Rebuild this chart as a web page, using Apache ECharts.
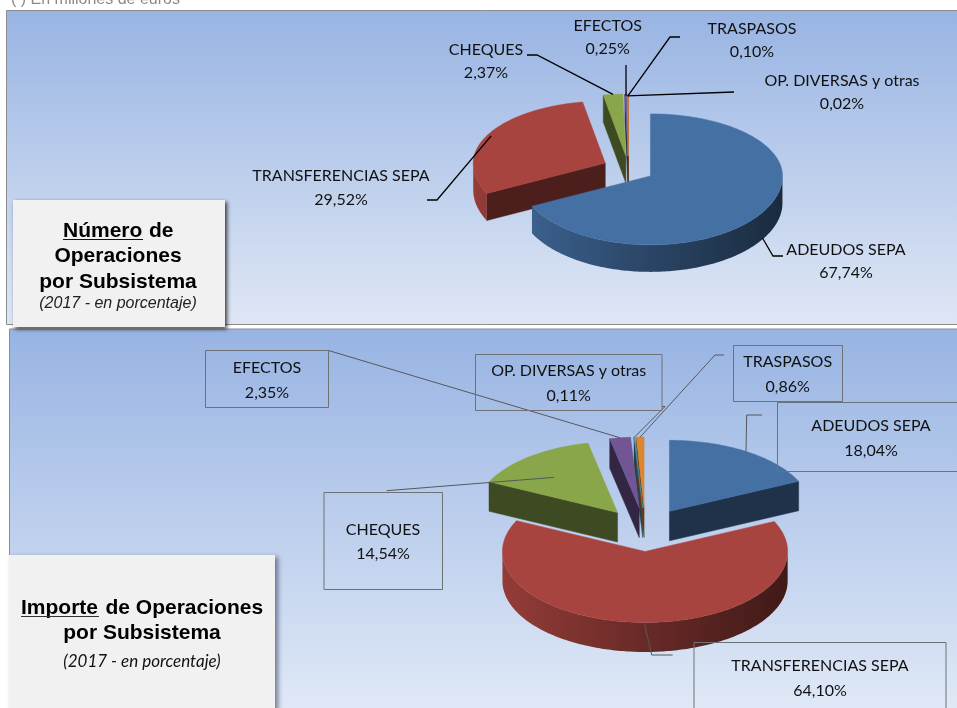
<!DOCTYPE html>
<html><head><meta charset="utf-8">
<style>html,body{margin:0;padding:0;background:#fff}#c{width:957px;height:708px}</style>
<script src="https://cdn.jsdelivr.net/npm/echarts@6/dist/echarts.min.js"></script>
</head><body><div id="c"></div>
<script>
const categories = ['ADEUDOS SEPA','TRANSFERENCIAS SEPA','CHEQUES','EFECTOS','OP. DIVERSAS y otras','TRASPASOS'];
const numeroValues = [67.74,29.52,2.37,0.25,0.02,0.10];
const importeValues = [18.04,64.10,14.54,2.35,0.11,0.86];
const baseColors = ['#4470A4','#A8443F','#8AA64B','#715594','#3F98AF','#DF8430'];

const FONT = 'Lato, sans-serif';
const geomNumero = {cx:628.4, cy:169, rx:132, ryBack:62, ryFront:69, k:0.5, depth:27, explode:26};
const geomImporte = {cx:645.3, cy:529.7, rx:142.6, ryBack:71, ryFront:71, k:0.484, depth:29.5, explode:45};

// label layout per category: text centre, line ys, leader tail, anchor fraction, depth fraction
const layoutNumero = [
 {x:846,y:[250,273],tail:[[783,256],[773,256]],f:1,d:0.95},
 {x:341,y:[176,200],tail:[[427,200],[437,200]],f:0.97,d:0},
 {x:486,y:[50,73],tail:[[527,55],[537,55]],f:1,d:0},
 {x:607.7,y:[26,49],tail:[[626,65]],f:0.97,d:0},
 {x:842,y:[81,104],tail:[[734,92]],f:0.97,d:0},
 {x:752,y:[29,52],tail:[[680,37],[670,37]],f:0.97,d:0}
];
const layoutImporte = [
 {x:871,y:[426,451],tail:[[762,415],[746.7,415]],f:1,d:0,box:[777.5,402.5,190,69]},
 {x:820,y:[666,691],tail:[[672.7,655],[651.7,655]],f:1,d:0,box:[694,642.5,252,80]},
 {x:383,y:[530,554],tail:[[386.7,490.7]],f:0.72,d:0,box:[324,492.5,118.5,97]},
 {x:267,y:[368,393],tail:[[328.5,350.5]],f:1,d:0,box:[205.5,350.5,123,57]},
 {x:568.7,y:[371,396],tail:[[662,406.5],[665,406.5]],f:1,d:0,box:[475.5,354.5,186.5,56]},
 {x:787.7,y:[362,387],tail:[[724,355],[715,355]],f:1,d:0,box:[733.5,345.5,109,56]}
];

function shade(hex,k){
  const n=parseInt(hex.slice(1),16);
  const c=[n>>16&255,n>>8&255,n&255].map(v=>Math.round(v*k));
  return 'rgb('+c.join(',')+')';
}
const fmt = v => v.toFixed(2).replace('.',',')+'%';
const rad = d => d*Math.PI/180;

function makeSeries(values,g,layout,lineColor,lineWidth){
  const total = values.reduce((a,b)=>a+b,0);
  const starts=[]; let acc=0;
  values.forEach(v=>{starts.push(acc/total*360);acc+=v;});
  return {
    type:'custom', coordinateSystem:'none', silent:true, animation:false,
    data: categories.map((name,i)=>({name,value:values[i]})),
    renderItem(params,api){
      const i=params.dataIndex, v=api.value(0);
      const a0=starts[i], a1=a0+v/total*360, mid=(a0+a1)/2;
      const sx=g.cx+g.explode*Math.sin(rad(mid));
      const sy=g.cy-g.explode*g.k*Math.cos(rad(mid));
      const P=(a,d,f)=>{
        f=f==null?1:f;
        const c=Math.cos(rad(a));
        const ry=c>0?g.ryBack:g.ryFront;
        return [sx+f*g.rx*Math.sin(rad(a)), sy-f*ry*c+d];
      };
      const apex=[sx,sy];
      const col=baseColors[i], dark=shade(col,0.45);
      const z=Math.round(-Math.cos(rad(mid))*100)+200;
      const kids=[];
      const face=(a)=>{
        const p=P(a,0), q=P(a,g.depth);
        kids.push({type:'polygon',z2:z,shape:{points:[apex,p,q,[apex[0],apex[1]+g.depth]]},
          style:{fill:dark,stroke:dark,lineWidth:0.5}});
      };
      if(Math.sin(rad(a0))<0) face(a0);
      if(Math.sin(rad(a1))>0) face(a1);
      const w0=Math.max(a0,90), w1=Math.min(a1,270);
      if(w1>w0){
        const pts=[];
        for(let a=w0;a<w1;a+=1) pts.push(P(a,0));
        pts.push(P(w1,0));
        for(let a=w1;a>w0;a-=1) pts.push(P(a,g.depth));
        pts.push(P(w0,g.depth));
        const grad=new echarts.graphic.LinearGradient(sx-g.rx,0,sx+g.rx,0,[
          {offset:0,color:shade(col,0.88)},{offset:0.5,color:shade(col,0.62)},{offset:1,color:shade(col,0.38)}],true);
        kids.push({type:'polygon',z2:z,shape:{points:pts},style:{fill:grad}});
      }
      const top=[apex];
      for(let a=a0;a<a1;a+=1) top.push(P(a,0));
      top.push(P(a1,0));
      kids.push({type:'polygon',z2:z+1,shape:{points:top},style:{fill:col,stroke:col,lineWidth:0.5}});

      const L=layout[i];
      const end=P(mid,L.d*g.depth,L.f);
      if(i===2&&L.box) end[1]+=5;
      kids.push({type:'polyline',z2:900,shape:{points:L.tail.concat([end])},
        style:{fill:null,stroke:lineColor,lineWidth}});
      if(L.box){
        kids.push({type:'rect',z2:901,shape:{x:L.box[0],y:L.box[1],width:L.box[2],height:L.box[3]},
          style:{fill:null,stroke:'#6f7274',lineWidth:1}});
      }
      [categories[i],fmt(v)].forEach((t,n)=>{
        kids.push({type:'text',z2:950,style:{text:t,x:L.x,y:L.y[n],align:'center',verticalAlign:'middle',
          font:'16px '+FONT,fill:'#111'}});
      });
      return {type:'group',children:kids};
    }
  };
}

const bgGrad=(y0,y1,c1,c2)=>new echarts.graphic.LinearGradient(0,y0,0,y1,[{offset:0,color:c1},{offset:1,color:c2}],true);
const txt=(t,x,y,font,fill,align)=>({type:'text',z:20,silent:true,style:{text:t,x,y,font,fill:fill||'#000',align:align||'center',verticalAlign:'middle'}});
const HB='bold 21px "Liberation Sans", Arial, sans-serif';

const graphicEls=[
 txt('( ) En millones de euros',11,0,'16px "Liberation Sans", Arial, sans-serif','#8a8a8a','left'),
 {type:'rect',z:-5,silent:true,shape:{x:6.5,y:10.5,width:960,height:314},
  style:{fill:bgGrad(10,325,'#98b4e3','#dfe7f5'),stroke:'#8c8c8c',lineWidth:1}},
 {type:'rect',z:-5,silent:true,shape:{x:9.5,y:329,width:960,height:390},
  style:{fill:bgGrad(329,708,'#98b4e3','#dfe8f6'),stroke:'#8c8c8c',lineWidth:1}},
 {type:'rect',z:15,silent:true,shape:{x:13,y:200,width:212,height:127},
  style:{fill:'#f1f1f1',shadowBlur:4,shadowOffsetX:2,shadowOffsetY:2,shadowColor:'rgba(0,0,0,0.75)'}},
 {type:'rect',z:15,silent:true,shape:{x:9,y:555,width:266,height:160},
  style:{fill:'#f1f1f1',shadowBlur:5,shadowOffsetX:3,shadowOffsetY:2,shadowColor:'rgba(40,50,80,0.6)'}},
 txt('Número',63,231,HB,'#000','left'),
 txt('de',149,231,HB,'#000','left'),
 {type:'rect',z:20,silent:true,shape:{x:63,y:239,width:80,height:1},style:{fill:'#111'}},
 txt('Operaciones',118,256,HB),
 txt('por Subsistema',118,282,HB),
 txt('(2017 - en porcentaje)',118,304,'italic 16px "Liberation Sans", Arial, sans-serif','#222'),
 txt('Importe',21,608,HB,'#000','left'),
 txt('de Operaciones',105.5,608,HB,'#000','left'),
 {type:'rect',z:20,silent:true,shape:{x:21,y:616,width:78,height:1},style:{fill:'#333'}},
 txt('por Subsistema',142,633,HB),
 txt('(2017 - en porcentaje)',142,662,'italic 17px '+FONT,'#111')
];

const chart=echarts.init(document.getElementById('c'),null,{renderer:'canvas'});
chart.setOption({
  animation:false,
  graphic:{elements:graphicEls},
  series:[
    makeSeries(numeroValues,geomNumero,layoutNumero,'#000',1.3),
    makeSeries(importeValues,geomImporte,layoutImporte,'#55585a',1)
  ]
});
</script></body></html>
